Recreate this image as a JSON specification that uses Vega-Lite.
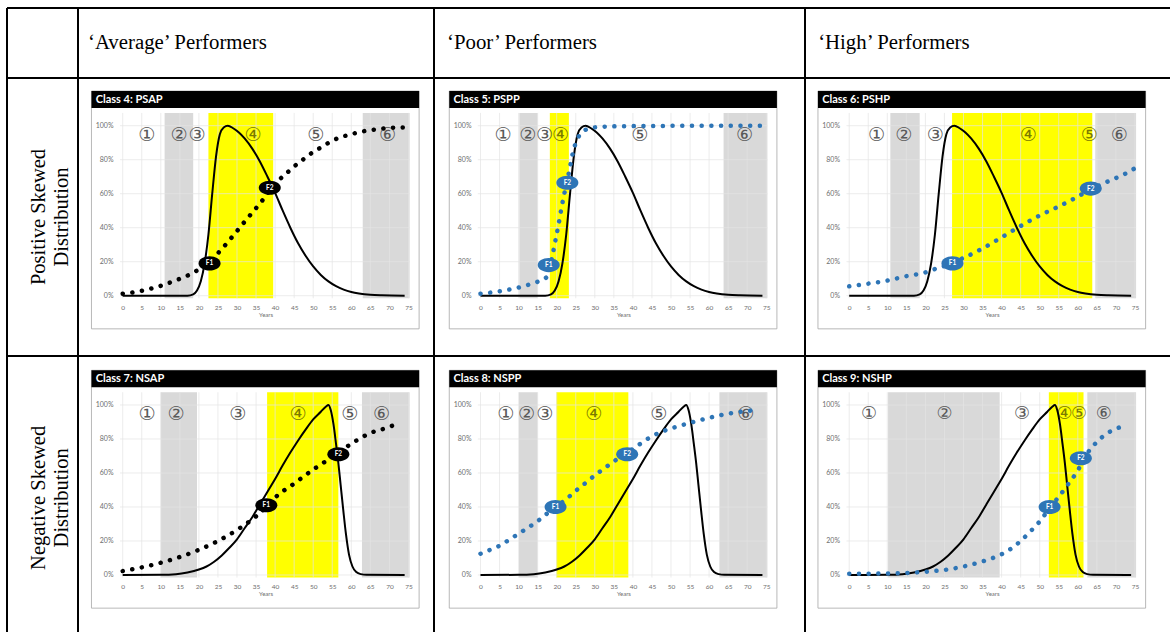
{
"$schema":"https://vega.github.io/schema/vega-lite/v6.json",
"background":"white",
"padding":{"left":6,"top":7,"right":0,"bottom":0},
"autosize":{"type":"pad"},
"spacing":0,
"bounds":"flush",
"columns":4,
"datasets":{
"gx":[{"year":0},{"year":5},{"year":10},{"year":15},{"year":20},{"year":25},{"year":30},{"year":35},{"year":40},{"year":45},{"year":50},{"year":55},{"year":60},{"year":65},{"year":70},{"year":75}],
"gy":[{"share":0},{"share":0.2},{"share":0.4},{"share":0.6},{"share":0.8},{"share":1}],
"pos":[{"year":0,"share":0},{"year":10,"share":0},{"year":17,"share":0},{"year":18.5,"share":0.008},{"year":19.5,"share":0.03},{"year":20.5,"share":0.085},{"year":21.5,"share":0.19},{"year":22.5,"share":0.36},{"year":23.5,"share":0.6},{"year":24.5,"share":0.82},{"year":25.5,"share":0.95},{"year":26.5,"share":0.99},{"year":27.6,"share":1.0},{"year":29,"share":0.985},{"year":30.5,"share":0.96},{"year":32,"share":0.925},{"year":34,"share":0.865},{"year":36,"share":0.79},{"year":38,"share":0.7},{"year":40,"share":0.605},{"year":42,"share":0.5},{"year":44,"share":0.4},{"year":46,"share":0.31},{"year":48,"share":0.235},{"year":50,"share":0.172},{"year":52,"share":0.122},{"year":54,"share":0.084},{"year":56,"share":0.056},{"year":58,"share":0.036},{"year":60,"share":0.022},{"year":62,"share":0.013},{"year":65,"share":0.005},{"year":68,"share":0.002},{"year":74,"share":0}],
"neg":[{"year":0,"share":0},{"year":10,"share":0.001},{"year":14,"share":0.005},{"year":17,"share":0.015},{"year":20,"share":0.032},{"year":22,"share":0.05},{"year":24,"share":0.078},{"year":26,"share":0.115},{"year":28,"share":0.16},{"year":30,"share":0.21},{"year":32,"share":0.275},{"year":34,"share":0.34},{"year":36,"share":0.415},{"year":38,"share":0.49},{"year":40,"share":0.565},{"year":42,"share":0.645},{"year":44,"share":0.72},{"year":46,"share":0.79},{"year":48,"share":0.855},{"year":50,"share":0.915},{"year":52,"share":0.96},{"year":53.3,"share":0.99},{"year":54,"share":1.0},{"year":54.6,"share":0.97},{"year":55.3,"share":0.89},{"year":56,"share":0.77},{"year":56.6,"share":0.66},{"year":57.2,"share":0.53},{"year":57.9,"share":0.38},{"year":58.6,"share":0.24},{"year":59.4,"share":0.12},{"year":60.3,"share":0.05},{"year":61.3,"share":0.017},{"year":62.5,"share":0.005},{"year":64,"share":0.001},{"year":74,"share":0}]
},
"concat":[
 {"width":71,"height":70,"data":{"values":[{}]},"layer":[
  {"mark":{"type":"rule","color":"black","strokeWidth":2},"encoding":{"x":{"datum":0,"type":"quantitative","scale":{"domain":[0,1],"nice":false,"zero":false},"axis":null},"y":{"datum":0,"type":"quantitative","scale":{"domain":[0,1],"nice":false,"zero":false},"axis":null},"y2":{"datum":1}}},
  {"mark":{"type":"rule","color":"black","strokeWidth":2},"encoding":{"x":{"datum":0,"axis":null},"x2":{"datum":1},"y":{"datum":1,"axis":null}}}
 ]},
 {"width":356,"height":70,"data":{"values":[{}]},"layer":[
  {"mark":{"type":"rule","color":"black","strokeWidth":2},"encoding":{"x":{"datum":0,"type":"quantitative","scale":{"domain":[0,1],"nice":false,"zero":false},"axis":null},"y":{"datum":0,"type":"quantitative","scale":{"domain":[0,1],"nice":false,"zero":false},"axis":null},"y2":{"datum":1}}},
  {"mark":{"type":"rule","color":"black","strokeWidth":2},"encoding":{"x":{"datum":0,"axis":null},"x2":{"datum":1},"y":{"datum":1,"axis":null}}},
  {"mark":{"type":"text","text":"‘Average’ Performers","font":"Liberation Serif","fontSize":20.8,"align":"left","baseline":"middle","color":"black"},"encoding":{"x":{"datum":0.028,"axis":null},"y":{"datum":0.5,"axis":null}}}
 ]},
 {"width":371,"height":70,"data":{"values":[{}]},"layer":[
  {"mark":{"type":"rule","color":"black","strokeWidth":2},"encoding":{"x":{"datum":0,"type":"quantitative","scale":{"domain":[0,1],"nice":false,"zero":false},"axis":null},"y":{"datum":0,"type":"quantitative","scale":{"domain":[0,1],"nice":false,"zero":false},"axis":null},"y2":{"datum":1}}},
  {"mark":{"type":"rule","color":"black","strokeWidth":2},"encoding":{"x":{"datum":0,"axis":null},"x2":{"datum":1},"y":{"datum":1,"axis":null}}},
  {"mark":{"type":"text","text":"‘Poor’ Performers","font":"Liberation Serif","fontSize":20.8,"align":"left","baseline":"middle","color":"black"},"encoding":{"x":{"datum":0.035,"axis":null},"y":{"datum":0.5,"axis":null}}}
 ]},
 {"width":365,"height":70,"data":{"values":[{}]},"layer":[
  {"mark":{"type":"rule","color":"black","strokeWidth":2},"encoding":{"x":{"datum":0,"type":"quantitative","scale":{"domain":[0,1],"nice":false,"zero":false},"axis":null},"y":{"datum":0,"type":"quantitative","scale":{"domain":[0,1],"nice":false,"zero":false},"axis":null},"y2":{"datum":1}}},
  {"mark":{"type":"rule","color":"black","strokeWidth":2},"encoding":{"x":{"datum":0,"axis":null},"x2":{"datum":1},"y":{"datum":1,"axis":null}}},
  {"mark":{"type":"text","text":"‘High’ Performers","font":"Liberation Serif","fontSize":20.8,"align":"left","baseline":"middle","color":"black"},"encoding":{"x":{"datum":0.036,"axis":null},"y":{"datum":0.5,"axis":null}}}
 ]},
 {"width":71,"height":278,"data":{"values":[{}]},"layer":[
  {"mark":{"type":"rule","color":"black","strokeWidth":2},"encoding":{"x":{"datum":0,"type":"quantitative","scale":{"domain":[0,1],"nice":false,"zero":false},"axis":null},"y":{"datum":0,"type":"quantitative","scale":{"domain":[0,1],"nice":false,"zero":false},"axis":null},"y2":{"datum":1}}},
  {"mark":{"type":"rule","color":"black","strokeWidth":2},"encoding":{"x":{"datum":0,"axis":null},"x2":{"datum":1},"y":{"datum":1,"axis":null}}},
  {"mark":{"type":"text","text":["Positive Skewed","Distribution"],"font":"Liberation Serif","fontSize":20.5,"lineHeight":23,"angle":270,"align":"center","baseline":"middle","color":"black"},"encoding":{"x":{"datum":0.45,"axis":null},"y":{"datum":0.5,"axis":null}}}
 ]},
 {"width":356,"height":278,"data":{"values":[{}]},"layer":[
  {"mark":{"type":"rect","fill":"white","stroke":"#a6a6a6","strokeWidth":0.8},"encoding":{"x":{"datum":-8.2,"type":"quantitative","scale":{"domain":[-11.732,81.706],"nice":false,"zero":false},"axis":{"values":[0,5,10,15,20,25,30,35,40,45,50,55,60,65,70,75],"tickCount":40,"offset":-54,"title":"Years","titleX":187.6,"zindex":1,"labelOverlap":false}},"x2":{"datum":77.8},"y":{"datum":-0.195,"type":"quantitative","scale":{"domain":[-0.3547,1.2806],"nice":false,"zero":false},"axis":{"values":[0,0.2,0.4,0.6,0.8,1],"tickCount":20,"format":".0%","offset":-37,"title":null,"labelFontSize":7,"zindex":1,"labelOverlap":false}},"y2":{"datum":1.204}}},
  {"data":{"values":[{"start":11,"end":18.5,"kind":"gray"},{"start":22.5,"end":39.5,"kind":"yellow"},{"start":63,"end":75.3,"kind":"gray"}]},"mark":{"type":"rect"},"encoding":{"x":{"field":"start","type":"quantitative"},"x2":{"field":"end"},"y":{"datum":-0.015},"y2":{"datum":1.075},"color":{"condition":{"test":"datum.kind==='yellow'","value":"#ffff00"},"value":"#d9d9d9"}}},
  {"data":{"name":"gx"},"mark":{"type":"rule","color":"#e4e4e4","strokeWidth":0.7},"encoding":{"x":{"field":"year","type":"quantitative"},"y":{"datum":-0.015},"y2":{"datum":1.075}}},
  {"data":{"name":"gy"},"mark":{"type":"rule","color":"#e4e4e4","strokeWidth":0.7},"encoding":{"y":{"field":"share","type":"quantitative"},"x":{"datum":-0.7},"x2":{"datum":75.3}}},
  {"mark":{"type":"rect","fill":"black"},"encoding":{"x":{"datum":-8.2},"x2":{"datum":77.8},"y":{"datum":1.104},"y2":{"datum":1.204}}},
  {"mark":{"type":"text","text":"Class 4: PSAP","color":"white","font":"Lato","fontWeight":"bold","fontSize":11,"align":"left","baseline":"middle"},"encoding":{"x":{"datum":-7.1},"y":{"datum":1.154}}},
  {"data":{"values":[{"year":6.3,"num":"①","hi":false},{"year":14.8,"num":"②","hi":false},{"year":19.5,"num":"③","hi":false},{"year":34.2,"num":"④","hi":true},{"year":50.7,"num":"⑤","hi":false},{"year":69.5,"num":"⑥","hi":false}]},"mark":{"type":"text","font":"DejaVu Sans","fontSize":19,"baseline":"middle"},"encoding":{"x":{"field":"year","type":"quantitative"},"y":{"datum":0.945},"text":{"field":"num"},"color":{"condition":{"test":"datum.hi","value":"#7a7a00"},"value":"#595959"}}},
  {"data":{"name":"pos"},"mark":{"type":"line","color":"black","strokeWidth":2,"interpolate":"monotone"},"encoding":{"x":{"field":"year","type":"quantitative"},"y":{"field":"share","type":"quantitative"}}},
  {"data":{"values":[{"year":0,"share":0.012},{"year":3.5,"share":0.022},{"year":6,"share":0.034},{"year":8.5,"share":0.048},{"year":11,"share":0.066},{"year":13.5,"share":0.087},{"year":16,"share":0.108},{"year":18.5,"share":0.135},{"year":21,"share":0.17},{"year":23,"share":0.205},{"year":25,"share":0.25},{"year":27,"share":0.3},{"year":29,"share":0.353},{"year":31,"share":0.408},{"year":33,"share":0.462},{"year":35,"share":0.515},{"year":37,"share":0.57},{"year":39,"share":0.63},{"year":41,"share":0.68},{"year":43,"share":0.72},{"year":45,"share":0.76},{"year":47,"share":0.795},{"year":49,"share":0.83},{"year":51,"share":0.858},{"year":53,"share":0.885},{"year":55,"share":0.912},{"year":57.5,"share":0.934},{"year":60,"share":0.95},{"year":62.5,"share":0.964},{"year":65,"share":0.974},{"year":67.5,"share":0.981},{"year":70,"share":0.987},{"year":73.5,"share":0.99}]},"mark":{"type":"line","color":"black","strokeWidth":4.5,"strokeDash":[0.1,9.6],"strokeCap":"round","interpolate":"monotone"},"encoding":{"x":{"field":"year","type":"quantitative"},"y":{"field":"share","type":"quantitative"}}},
  {"data":{"values":[{"year":22.8,"share":0.19,"name":"F1"},{"year":38.6,"share":0.635,"name":"F2"}]},"layer":[
   {"mark":{"type":"point","shape":"M -1 0 A 1 0.64 0 1 1 1 0 A 1 0.64 0 1 1 -1 0 Z","size":484,"filled":true,"color":"black","opacity":1},"encoding":{"x":{"field":"year","type":"quantitative"},"y":{"field":"share","type":"quantitative"}}},
   {"mark":{"type":"text","color":"white","font":"Lato","fontWeight":"bold","fontSize":6.5,"baseline":"middle"},"encoding":{"x":{"field":"year","type":"quantitative"},"y":{"field":"share","type":"quantitative"},"text":{"field":"name"}}}
  ]},
  {"mark":{"type":"rule","color":"black","strokeWidth":2},"encoding":{"x":{"datum":-11.732},"y":{"datum":-0.3547},"y2":{"datum":1.2806}}},
  {"mark":{"type":"rule","color":"black","strokeWidth":2},"encoding":{"y":{"datum":1.2806},"x":{"datum":-11.732},"x2":{"datum":81.706}}}
 ]},
 {"width":371,"height":278,"data":{"values":[{}]},"layer":[
  {"mark":{"type":"rect","fill":"white","stroke":"#a6a6a6","strokeWidth":0.8},"encoding":{"x":{"datum":-8.2,"type":"quantitative","scale":{"domain":[-12.205,85.17],"nice":false,"zero":false},"axis":{"values":[0,5,10,15,20,25,30,35,40,45,50,55,60,65,70,75],"tickCount":40,"offset":-54,"title":"Years","titleX":189.4,"zindex":1,"labelOverlap":false}},"x2":{"datum":77.8},"y":{"datum":-0.195,"type":"quantitative","scale":{"domain":[-0.3547,1.2806],"nice":false,"zero":false},"axis":{"values":[0,0.2,0.4,0.6,0.8,1],"tickCount":20,"format":".0%","offset":-39,"title":null,"labelFontSize":7,"zindex":1,"labelOverlap":false}},"y2":{"datum":1.204}}},
  {"data":{"values":[{"start":10.2,"end":15,"kind":"gray"},{"start":18.2,"end":23.2,"kind":"yellow"},{"start":63.8,"end":75.3,"kind":"gray"}]},"mark":{"type":"rect"},"encoding":{"x":{"field":"start","type":"quantitative"},"x2":{"field":"end"},"y":{"datum":-0.015},"y2":{"datum":1.075},"color":{"condition":{"test":"datum.kind==='yellow'","value":"#ffff00"},"value":"#d9d9d9"}}},
  {"data":{"name":"gx"},"mark":{"type":"rule","color":"#e4e4e4","strokeWidth":0.7},"encoding":{"x":{"field":"year","type":"quantitative"},"y":{"datum":-0.015},"y2":{"datum":1.075}}},
  {"data":{"name":"gy"},"mark":{"type":"rule","color":"#e4e4e4","strokeWidth":0.7},"encoding":{"y":{"field":"share","type":"quantitative"},"x":{"datum":-0.7},"x2":{"datum":75.3}}},
  {"mark":{"type":"rect","fill":"black"},"encoding":{"x":{"datum":-8.2},"x2":{"datum":77.8},"y":{"datum":1.104},"y2":{"datum":1.204}}},
  {"mark":{"type":"text","text":"Class 5: PSPP","color":"white","font":"Lato","fontWeight":"bold","fontSize":11,"align":"left","baseline":"middle"},"encoding":{"x":{"datum":-7.1},"y":{"datum":1.154}}},
  {"data":{"values":[{"year":5.9,"num":"①","hi":false},{"year":12.4,"num":"②","hi":false},{"year":16.8,"num":"③","hi":false},{"year":21.0,"num":"④","hi":true},{"year":41.8,"num":"⑤","hi":false},{"year":69.3,"num":"⑥","hi":false}]},"mark":{"type":"text","font":"DejaVu Sans","fontSize":19,"baseline":"middle"},"encoding":{"x":{"field":"year","type":"quantitative"},"y":{"datum":0.945},"text":{"field":"num"},"color":{"condition":{"test":"datum.hi","value":"#7a7a00"},"value":"#595959"}}},
  {"data":{"name":"pos"},"mark":{"type":"line","color":"black","strokeWidth":2,"interpolate":"monotone"},"encoding":{"x":{"field":"year","type":"quantitative"},"y":{"field":"share","type":"quantitative"}}},
  {"data":{"values":[{"year":0,"share":0.012},{"year":2.5,"share":0.018},{"year":5,"share":0.026},{"year":7.5,"share":0.036},{"year":10,"share":0.048},{"year":12.5,"share":0.064},{"year":15,"share":0.082},{"year":17.4,"share":0.11},{"year":18.2,"share":0.17},{"year":19,"share":0.25},{"year":19.8,"share":0.34},{"year":20.5,"share":0.42},{"year":21.2,"share":0.51},{"year":22,"share":0.6},{"year":22.8,"share":0.68},{"year":23.6,"share":0.77},{"year":24.4,"share":0.855},{"year":25.2,"share":0.91},{"year":26,"share":0.945},{"year":27.5,"share":0.975},{"year":30,"share":0.99},{"year":35,"share":0.996},{"year":50,"share":0.999},{"year":74,"share":1.0}]},"mark":{"type":"line","color":"#2e75b6","strokeWidth":4.5,"strokeDash":[0.1,9.6],"strokeCap":"round","interpolate":"monotone"},"encoding":{"x":{"field":"year","type":"quantitative"},"y":{"field":"share","type":"quantitative"}}},
  {"data":{"values":[{"year":17.9,"share":0.18,"name":"F1"},{"year":22.8,"share":0.664,"name":"F2"}]},"layer":[
   {"mark":{"type":"point","shape":"M -1 0 A 1 0.64 0 1 1 1 0 A 1 0.64 0 1 1 -1 0 Z","size":484,"filled":true,"color":"#2e75b6","opacity":1},"encoding":{"x":{"field":"year","type":"quantitative"},"y":{"field":"share","type":"quantitative"}}},
   {"mark":{"type":"text","color":"white","font":"Lato","fontWeight":"bold","fontSize":6.5,"baseline":"middle"},"encoding":{"x":{"field":"year","type":"quantitative"},"y":{"field":"share","type":"quantitative"},"text":{"field":"name"}}}
  ]},
  {"mark":{"type":"rule","color":"black","strokeWidth":2},"encoding":{"x":{"datum":-12.205},"y":{"datum":-0.3547},"y2":{"datum":1.2806}}},
  {"mark":{"type":"rule","color":"black","strokeWidth":2},"encoding":{"y":{"datum":1.2806},"x":{"datum":-12.205},"x2":{"datum":85.17}}}
 ]},
 {"width":365,"height":278,"data":{"values":[{}]},"layer":[
  {"mark":{"type":"rect","fill":"white","stroke":"#a6a6a6","strokeWidth":0.8},"encoding":{"x":{"datum":-8.2,"type":"quantitative","scale":{"domain":[-11.601,84.2],"nice":false,"zero":false},"axis":{"values":[0,5,10,15,20,25,30,35,40,45,50,55,60,65,70,75],"tickCount":40,"offset":-54,"title":"Years","titleX":187.1,"zindex":1,"labelOverlap":false}},"x2":{"datum":77.8},"y":{"datum":-0.195,"type":"quantitative","scale":{"domain":[-0.3547,1.2806],"nice":false,"zero":false},"axis":{"values":[0,0.2,0.4,0.6,0.8,1],"tickCount":20,"format":".0%","offset":-36.5,"title":null,"labelFontSize":7,"zindex":1,"labelOverlap":false}},"y2":{"datum":1.204}}},
  {"data":{"values":[{"start":10.8,"end":18.5,"kind":"gray"},{"start":27,"end":63.8,"kind":"yellow"},{"start":64.6,"end":75.3,"kind":"gray"}]},"mark":{"type":"rect"},"encoding":{"x":{"field":"start","type":"quantitative"},"x2":{"field":"end"},"y":{"datum":-0.015},"y2":{"datum":1.075},"color":{"condition":{"test":"datum.kind==='yellow'","value":"#ffff00"},"value":"#d9d9d9"}}},
  {"data":{"name":"gx"},"mark":{"type":"rule","color":"#e4e4e4","strokeWidth":0.7},"encoding":{"x":{"field":"year","type":"quantitative"},"y":{"datum":-0.015},"y2":{"datum":1.075}}},
  {"data":{"name":"gy"},"mark":{"type":"rule","color":"#e4e4e4","strokeWidth":0.7},"encoding":{"y":{"field":"share","type":"quantitative"},"x":{"datum":-0.7},"x2":{"datum":75.3}}},
  {"mark":{"type":"rect","fill":"black"},"encoding":{"x":{"datum":-8.2},"x2":{"datum":77.8},"y":{"datum":1.104},"y2":{"datum":1.204}}},
  {"mark":{"type":"text","text":"Class 6: PSHP","color":"white","font":"Lato","fontWeight":"bold","fontSize":11,"align":"left","baseline":"middle"},"encoding":{"x":{"datum":-7.1},"y":{"datum":1.154}}},
  {"data":{"values":[{"year":7.2,"num":"①","hi":false},{"year":14.3,"num":"②","hi":false},{"year":22.6,"num":"③","hi":false},{"year":47,"num":"④","hi":true},{"year":63,"num":"⑤","hi":true},{"year":70.9,"num":"⑥","hi":false}]},"mark":{"type":"text","font":"DejaVu Sans","fontSize":19,"baseline":"middle"},"encoding":{"x":{"field":"year","type":"quantitative"},"y":{"datum":0.945},"text":{"field":"num"},"color":{"condition":{"test":"datum.hi","value":"#7a7a00"},"value":"#595959"}}},
  {"data":{"name":"pos"},"mark":{"type":"line","color":"black","strokeWidth":2,"interpolate":"monotone"},"encoding":{"x":{"field":"year","type":"quantitative"},"y":{"field":"share","type":"quantitative"}}},
  {"data":{"values":[{"year":0,"share":0.055},{"year":5,"share":0.071},{"year":10,"share":0.089},{"year":15,"share":0.115},{"year":20,"share":0.137},{"year":22.9,"share":0.16},{"year":25,"share":0.175},{"year":27.1,"share":0.195},{"year":30,"share":0.222},{"year":35,"share":0.278},{"year":40,"share":0.343},{"year":45,"share":0.41},{"year":50,"share":0.472},{"year":55,"share":0.525},{"year":60,"share":0.583},{"year":62.5,"share":0.615},{"year":65,"share":0.642},{"year":67.5,"share":0.668},{"year":70,"share":0.692},{"year":72.5,"share":0.718},{"year":75,"share":0.75}]},"mark":{"type":"line","color":"#2e75b6","strokeWidth":4.5,"strokeDash":[0.1,9.6],"strokeCap":"round","interpolate":"monotone"},"encoding":{"x":{"field":"year","type":"quantitative"},"y":{"field":"share","type":"quantitative"}}},
  {"data":{"values":[{"year":27.1,"share":0.19,"name":"F1"},{"year":63.4,"share":0.63,"name":"F2"}]},"layer":[
   {"mark":{"type":"point","shape":"M -1 0 A 1 0.64 0 1 1 1 0 A 1 0.64 0 1 1 -1 0 Z","size":484,"filled":true,"color":"#2e75b6","opacity":1},"encoding":{"x":{"field":"year","type":"quantitative"},"y":{"field":"share","type":"quantitative"}}},
   {"mark":{"type":"text","color":"white","font":"Lato","fontWeight":"bold","fontSize":6.5,"baseline":"middle"},"encoding":{"x":{"field":"year","type":"quantitative"},"y":{"field":"share","type":"quantitative"},"text":{"field":"name"}}}
  ]},
  {"mark":{"type":"rule","color":"black","strokeWidth":2},"encoding":{"x":{"datum":-11.601},"y":{"datum":-0.3547},"y2":{"datum":1.2806}}},
  {"mark":{"type":"rule","color":"black","strokeWidth":2},"encoding":{"y":{"datum":1.2806},"x":{"datum":-11.601},"x2":{"datum":84.2}}}
 ]},
 {"width":71,"height":276,"data":{"values":[{}]},"layer":[
  {"mark":{"type":"rule","color":"black","strokeWidth":2},"encoding":{"x":{"datum":0,"type":"quantitative","scale":{"domain":[0,1],"nice":false,"zero":false},"axis":null},"y":{"datum":0,"type":"quantitative","scale":{"domain":[0,1],"nice":false,"zero":false},"axis":null},"y2":{"datum":1}}},
  {"mark":{"type":"rule","color":"black","strokeWidth":2},"encoding":{"x":{"datum":0,"axis":null},"x2":{"datum":1},"y":{"datum":1,"axis":null}}},
  {"mark":{"type":"text","text":["Negative Skewed","Distribution"],"font":"Liberation Serif","fontSize":20.5,"lineHeight":23,"angle":270,"align":"center","baseline":"middle","color":"black"},"encoding":{"x":{"datum":0.45,"axis":null},"y":{"datum":0.486,"axis":null}}}
 ]},
 {"width":356,"height":276,"data":{"values":[{}]},"layer":[
  {"mark":{"type":"rect","fill":"white","stroke":"#a6a6a6","strokeWidth":0.8},"encoding":{"x":{"datum":-8.2,"type":"quantitative","scale":{"domain":[-11.732,81.706],"nice":false,"zero":false},"axis":{"values":[0,5,10,15,20,25,30,35,40,45,50,55,60,65,70,75],"tickCount":40,"offset":-51,"title":"Years","titleX":187.6,"zindex":1,"labelOverlap":false}},"x2":{"datum":77.8},"y":{"datum":-0.195,"type":"quantitative","scale":{"domain":[-0.3353,1.2882],"nice":false,"zero":false},"axis":{"values":[0,0.2,0.4,0.6,0.8,1],"tickCount":20,"format":".0%","offset":-37,"title":null,"labelFontSize":7,"zindex":1,"labelOverlap":false}},"y2":{"datum":1.204}}},
  {"data":{"values":[{"start":10,"end":19.5,"kind":"gray"},{"start":37.9,"end":56.6,"kind":"yellow"},{"start":62.8,"end":75.3,"kind":"gray"}]},"mark":{"type":"rect"},"encoding":{"x":{"field":"start","type":"quantitative"},"x2":{"field":"end"},"y":{"datum":-0.015},"y2":{"datum":1.075},"color":{"condition":{"test":"datum.kind==='yellow'","value":"#ffff00"},"value":"#d9d9d9"}}},
  {"data":{"name":"gx"},"mark":{"type":"rule","color":"#e4e4e4","strokeWidth":0.7},"encoding":{"x":{"field":"year","type":"quantitative"},"y":{"datum":-0.015},"y2":{"datum":1.075}}},
  {"data":{"name":"gy"},"mark":{"type":"rule","color":"#e4e4e4","strokeWidth":0.7},"encoding":{"y":{"field":"share","type":"quantitative"},"x":{"datum":-0.7},"x2":{"datum":75.3}}},
  {"mark":{"type":"rect","fill":"black"},"encoding":{"x":{"datum":-8.2},"x2":{"datum":77.8},"y":{"datum":1.104},"y2":{"datum":1.204}}},
  {"mark":{"type":"text","text":"Class 7: NSAP","color":"white","font":"Lato","fontWeight":"bold","fontSize":11,"align":"left","baseline":"middle"},"encoding":{"x":{"datum":-7.1},"y":{"datum":1.154}}},
  {"data":{"values":[{"year":6.4,"num":"①","hi":false},{"year":14,"num":"②","hi":false},{"year":30.2,"num":"③","hi":false},{"year":46,"num":"④","hi":true},{"year":59.6,"num":"⑤","hi":false},{"year":67.9,"num":"⑥","hi":false}]},"mark":{"type":"text","font":"DejaVu Sans","fontSize":19,"baseline":"middle"},"encoding":{"x":{"field":"year","type":"quantitative"},"y":{"datum":0.945},"text":{"field":"num"},"color":{"condition":{"test":"datum.hi","value":"#7a7a00"},"value":"#595959"}}},
  {"data":{"name":"neg"},"mark":{"type":"line","color":"black","strokeWidth":2,"interpolate":"monotone"},"encoding":{"x":{"field":"year","type":"quantitative"},"y":{"field":"share","type":"quantitative"}}},
  {"data":{"values":[{"year":0,"share":0.023},{"year":5,"share":0.045},{"year":10,"share":0.072},{"year":15,"share":0.106},{"year":20,"share":0.148},{"year":25,"share":0.2},{"year":30,"share":0.265},{"year":35,"share":0.345},{"year":37.7,"share":0.4},{"year":40,"share":0.455},{"year":45,"share":0.538},{"year":50,"share":0.62},{"year":55,"share":0.694},{"year":60,"share":0.772},{"year":65,"share":0.835},{"year":70,"share":0.871},{"year":72.5,"share":0.895}]},"mark":{"type":"line","color":"black","strokeWidth":4.5,"strokeDash":[0.1,9.6],"strokeCap":"round","interpolate":"monotone"},"encoding":{"x":{"field":"year","type":"quantitative"},"y":{"field":"share","type":"quantitative"}}},
  {"data":{"values":[{"year":37.7,"share":0.41,"name":"F1"},{"year":56.6,"share":0.71,"name":"F2"}]},"layer":[
   {"mark":{"type":"point","shape":"M -1 0 A 1 0.64 0 1 1 1 0 A 1 0.64 0 1 1 -1 0 Z","size":484,"filled":true,"color":"black","opacity":1},"encoding":{"x":{"field":"year","type":"quantitative"},"y":{"field":"share","type":"quantitative"}}},
   {"mark":{"type":"text","color":"white","font":"Lato","fontWeight":"bold","fontSize":6.5,"baseline":"middle"},"encoding":{"x":{"field":"year","type":"quantitative"},"y":{"field":"share","type":"quantitative"},"text":{"field":"name"}}}
  ]},
  {"mark":{"type":"rule","color":"black","strokeWidth":2},"encoding":{"x":{"datum":-11.732},"y":{"datum":-0.3353},"y2":{"datum":1.2882}}},
  {"mark":{"type":"rule","color":"black","strokeWidth":2},"encoding":{"y":{"datum":1.2882},"x":{"datum":-11.732},"x2":{"datum":81.706}}}
 ]},
 {"width":371,"height":276,"data":{"values":[{}]},"layer":[
  {"mark":{"type":"rect","fill":"white","stroke":"#a6a6a6","strokeWidth":0.8},"encoding":{"x":{"datum":-8.2,"type":"quantitative","scale":{"domain":[-12.205,85.17],"nice":false,"zero":false},"axis":{"values":[0,5,10,15,20,25,30,35,40,45,50,55,60,65,70,75],"tickCount":40,"offset":-51,"title":"Years","titleX":189.4,"zindex":1,"labelOverlap":false}},"x2":{"datum":77.8},"y":{"datum":-0.195,"type":"quantitative","scale":{"domain":[-0.3353,1.2882],"nice":false,"zero":false},"axis":{"values":[0,0.2,0.4,0.6,0.8,1],"tickCount":20,"format":".0%","offset":-39,"title":null,"labelFontSize":7,"zindex":1,"labelOverlap":false}},"y2":{"datum":1.204}}},
  {"data":{"values":[{"start":10.1,"end":15,"kind":"gray"},{"start":19.9,"end":38.8,"kind":"yellow"},{"start":62.7,"end":75.3,"kind":"gray"}]},"mark":{"type":"rect"},"encoding":{"x":{"field":"start","type":"quantitative"},"x2":{"field":"end"},"y":{"datum":-0.015},"y2":{"datum":1.075},"color":{"condition":{"test":"datum.kind==='yellow'","value":"#ffff00"},"value":"#d9d9d9"}}},
  {"data":{"name":"gx"},"mark":{"type":"rule","color":"#e4e4e4","strokeWidth":0.7},"encoding":{"x":{"field":"year","type":"quantitative"},"y":{"datum":-0.015},"y2":{"datum":1.075}}},
  {"data":{"name":"gy"},"mark":{"type":"rule","color":"#e4e4e4","strokeWidth":0.7},"encoding":{"y":{"field":"share","type":"quantitative"},"x":{"datum":-0.7},"x2":{"datum":75.3}}},
  {"mark":{"type":"rect","fill":"black"},"encoding":{"x":{"datum":-8.2},"x2":{"datum":77.8},"y":{"datum":1.104},"y2":{"datum":1.204}}},
  {"mark":{"type":"text","text":"Class 8: NSPP","color":"white","font":"Lato","fontWeight":"bold","fontSize":11,"align":"left","baseline":"middle"},"encoding":{"x":{"datum":-7.1},"y":{"datum":1.154}}},
  {"data":{"values":[{"year":6.6,"num":"①","hi":false},{"year":12.1,"num":"②","hi":false},{"year":16.9,"num":"③","hi":false},{"year":29.7,"num":"④","hi":true},{"year":46.8,"num":"⑤","hi":false},{"year":69.6,"num":"⑥","hi":false}]},"mark":{"type":"text","font":"DejaVu Sans","fontSize":19,"baseline":"middle"},"encoding":{"x":{"field":"year","type":"quantitative"},"y":{"datum":0.945},"text":{"field":"num"},"color":{"condition":{"test":"datum.hi","value":"#7a7a00"},"value":"#595959"}}},
  {"data":{"name":"neg"},"mark":{"type":"line","color":"black","strokeWidth":2,"interpolate":"monotone"},"encoding":{"x":{"field":"year","type":"quantitative"},"y":{"field":"share","type":"quantitative"}}},
  {"data":{"values":[{"year":0,"share":0.125},{"year":2.5,"share":0.148},{"year":5,"share":0.172},{"year":7.5,"share":0.207},{"year":10,"share":0.243},{"year":12.5,"share":0.279},{"year":15,"share":0.317},{"year":17.5,"share":0.362},{"year":20,"share":0.404},{"year":22.5,"share":0.446},{"year":25,"share":0.495},{"year":27.5,"share":0.54},{"year":30,"share":0.586},{"year":32.5,"share":0.628},{"year":35,"share":0.668},{"year":37.5,"share":0.706},{"year":40,"share":0.742},{"year":42.5,"share":0.78},{"year":45,"share":0.816},{"year":47.5,"share":0.842},{"year":50,"share":0.862},{"year":52.5,"share":0.879},{"year":55,"share":0.895},{"year":57.5,"share":0.91},{"year":60,"share":0.924},{"year":62.5,"share":0.938},{"year":65,"share":0.949},{"year":67.5,"share":0.958},{"year":71,"share":0.967}]},"mark":{"type":"line","color":"#2e75b6","strokeWidth":4.5,"strokeDash":[0.1,9.6],"strokeCap":"round","interpolate":"monotone"},"encoding":{"x":{"field":"year","type":"quantitative"},"y":{"field":"share","type":"quantitative"}}},
  {"data":{"values":[{"year":19.7,"share":0.4,"name":"F1"},{"year":38.5,"share":0.71,"name":"F2"}]},"layer":[
   {"mark":{"type":"point","shape":"M -1 0 A 1 0.64 0 1 1 1 0 A 1 0.64 0 1 1 -1 0 Z","size":484,"filled":true,"color":"#2e75b6","opacity":1},"encoding":{"x":{"field":"year","type":"quantitative"},"y":{"field":"share","type":"quantitative"}}},
   {"mark":{"type":"text","color":"white","font":"Lato","fontWeight":"bold","fontSize":6.5,"baseline":"middle"},"encoding":{"x":{"field":"year","type":"quantitative"},"y":{"field":"share","type":"quantitative"},"text":{"field":"name"}}}
  ]},
  {"mark":{"type":"rule","color":"black","strokeWidth":2},"encoding":{"x":{"datum":-12.205},"y":{"datum":-0.3353},"y2":{"datum":1.2882}}},
  {"mark":{"type":"rule","color":"black","strokeWidth":2},"encoding":{"y":{"datum":1.2882},"x":{"datum":-12.205},"x2":{"datum":85.17}}}
 ]},
 {"width":365,"height":276,"data":{"values":[{}]},"layer":[
  {"mark":{"type":"rect","fill":"white","stroke":"#a6a6a6","strokeWidth":0.8},"encoding":{"x":{"datum":-8.2,"type":"quantitative","scale":{"domain":[-11.601,84.2],"nice":false,"zero":false},"axis":{"values":[0,5,10,15,20,25,30,35,40,45,50,55,60,65,70,75],"tickCount":40,"offset":-51,"title":"Years","titleX":187.1,"zindex":1,"labelOverlap":false}},"x2":{"datum":77.8},"y":{"datum":-0.195,"type":"quantitative","scale":{"domain":[-0.3353,1.2882],"nice":false,"zero":false},"axis":{"values":[0,0.2,0.4,0.6,0.8,1],"tickCount":20,"format":".0%","offset":-36.5,"title":null,"labelFontSize":7,"zindex":1,"labelOverlap":false}},"y2":{"datum":1.204}}},
  {"data":{"values":[{"start":10.2,"end":39.5,"kind":"gray"},{"start":52.4,"end":61.5,"kind":"yellow"},{"start":62.5,"end":75.3,"kind":"gray"}]},"mark":{"type":"rect"},"encoding":{"x":{"field":"start","type":"quantitative"},"x2":{"field":"end"},"y":{"datum":-0.015},"y2":{"datum":1.075},"color":{"condition":{"test":"datum.kind==='yellow'","value":"#ffff00"},"value":"#d9d9d9"}}},
  {"data":{"name":"gx"},"mark":{"type":"rule","color":"#e4e4e4","strokeWidth":0.7},"encoding":{"x":{"field":"year","type":"quantitative"},"y":{"datum":-0.015},"y2":{"datum":1.075}}},
  {"data":{"name":"gy"},"mark":{"type":"rule","color":"#e4e4e4","strokeWidth":0.7},"encoding":{"y":{"field":"share","type":"quantitative"},"x":{"datum":-0.7},"x2":{"datum":75.3}}},
  {"mark":{"type":"rect","fill":"black"},"encoding":{"x":{"datum":-8.2},"x2":{"datum":77.8},"y":{"datum":1.104},"y2":{"datum":1.204}}},
  {"mark":{"type":"text","text":"Class 9: NSHP","color":"white","font":"Lato","fontWeight":"bold","fontSize":11,"align":"left","baseline":"middle"},"encoding":{"x":{"datum":-7.1},"y":{"datum":1.154}}},
  {"data":{"values":[{"year":5.2,"num":"①","hi":false},{"year":25,"num":"②","hi":false},{"year":45.4,"num":"③","hi":false},{"year":56.5,"num":"④","hi":true},{"year":60.3,"num":"⑤","hi":true},{"year":66.8,"num":"⑥","hi":false}]},"mark":{"type":"text","font":"DejaVu Sans","fontSize":18,"baseline":"middle"},"encoding":{"x":{"field":"year","type":"quantitative"},"y":{"datum":0.945},"text":{"field":"num"},"color":{"condition":{"test":"datum.hi","value":"#7a7a00"},"value":"#595959"}}},
  {"data":{"name":"neg"},"mark":{"type":"line","color":"black","strokeWidth":2,"interpolate":"monotone"},"encoding":{"x":{"field":"year","type":"quantitative"},"y":{"field":"share","type":"quantitative"}}},
  {"data":{"values":[{"year":0,"share":0.008},{"year":5,"share":0.008},{"year":10,"share":0.009},{"year":15,"share":0.012},{"year":20,"share":0.019},{"year":25,"share":0.03},{"year":30,"share":0.05},{"year":35,"share":0.08},{"year":40,"share":0.122},{"year":42.5,"share":0.155},{"year":45,"share":0.2},{"year":47.5,"share":0.255},{"year":50,"share":0.315},{"year":52.5,"share":0.39},{"year":55,"share":0.46},{"year":57.5,"share":0.535},{"year":60,"share":0.615},{"year":61,"share":0.655},{"year":62.5,"share":0.715},{"year":65,"share":0.782},{"year":67.5,"share":0.83},{"year":70,"share":0.86},{"year":72,"share":0.875}]},"mark":{"type":"line","color":"#2e75b6","strokeWidth":4.5,"strokeDash":[0.1,9.6],"strokeCap":"round","interpolate":"monotone"},"encoding":{"x":{"field":"year","type":"quantitative"},"y":{"field":"share","type":"quantitative"}}},
  {"data":{"values":[{"year":52.6,"share":0.4,"name":"F1"},{"year":60.8,"share":0.687,"name":"F2"}]},"layer":[
   {"mark":{"type":"point","shape":"M -1 0 A 1 0.64 0 1 1 1 0 A 1 0.64 0 1 1 -1 0 Z","size":484,"filled":true,"color":"#2e75b6","opacity":1},"encoding":{"x":{"field":"year","type":"quantitative"},"y":{"field":"share","type":"quantitative"}}},
   {"mark":{"type":"text","color":"white","font":"Lato","fontWeight":"bold","fontSize":6.5,"baseline":"middle"},"encoding":{"x":{"field":"year","type":"quantitative"},"y":{"field":"share","type":"quantitative"},"text":{"field":"name"}}}
  ]},
  {"mark":{"type":"rule","color":"black","strokeWidth":2},"encoding":{"x":{"datum":-11.601},"y":{"datum":-0.3353},"y2":{"datum":1.2882}}},
  {"mark":{"type":"rule","color":"black","strokeWidth":2},"encoding":{"y":{"datum":1.2882},"x":{"datum":-11.601},"x2":{"datum":84.2}}}
 ]}
],
"config":{
 "view":{"stroke":null},
 "axis":{"domain":false,"ticks":false,"tickSize":0,"grid":false,"labelFont":"Lato","labelColor":"#6e6e6e","labelFontSize":6.5,"labelPadding":2,"titleFont":"Lato","titleFontSize":6,"titleFontWeight":"normal","titleColor":"#6e6e6e","titlePadding":1,"labelOverlap":false,"labelFlush":false,"zindex":1}
}
}
